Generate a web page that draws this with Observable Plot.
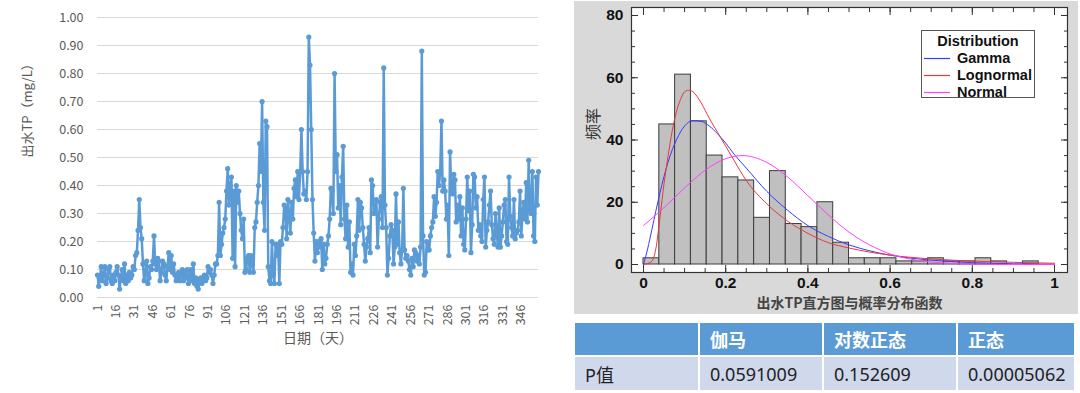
<!DOCTYPE html>
<html><head><meta charset="utf-8">
<script src="https://cdn.jsdelivr.net/npm/d3@7"></script>
<script src="https://cdn.jsdelivr.net/npm/@observablehq/plot@0.6"></script>
<style>
body{margin:0;background:#fff;width:1080px;height:393px;overflow:hidden;position:relative;font-family:"Noto Sans CJK SC","Noto Sans",sans-serif;}
#left{position:absolute;left:0;top:0;}
#panel{position:absolute;left:574px;top:1px;width:504px;height:313px;background:#d9d9d9;}
#right{position:absolute;left:0;top:0;}
#legend{position:absolute;left:347px;top:29px;width:114px;height:68px;background:#fff;border:1px solid #555;box-sizing:border-box;font-family:"Liberation Sans",Arial,sans-serif;font-weight:bold;font-size:14.5px;color:#111;}
#legend .ttl{position:absolute;left:0;width:100%;top:2px;text-align:center;}
#legend .row{position:absolute;left:0;width:100%;height:17px;}
#legend svg{position:absolute;left:2px;top:7px;}
#legend .lb{position:absolute;left:35px;top:0;}
#table{position:absolute;left:575px;top:323px;}
.cell{position:absolute;box-sizing:border-box;padding-left:10px;display:flex;align-items:center;font-size:18px;}
.hd{background:#5b9bd5;color:#fff;font-weight:bold;font-family:"Noto Sans CJK SC",sans-serif;}
.bd{background:#d0d8ec;color:#222;font-family:"Noto Sans","Noto Sans CJK SC",sans-serif;}
</style></head>
<body>
<div id="left"></div>
<div id="panel"><div id="right"></div><div id="legend"></div></div>
<div id="table"></div>
<script>
// ---------- Left chart data: daily effluent TP (mg/L) ----------
const tpValues = [
0.08,0.04,0.07,0.11,0.06,0.08,0.11,0.05,0.07,0.10,0.11,0.06,0.05,0.08,0.06,
0.09,0.11,0.08,0.03,0.07,0.10,0.06,0.12,0.05,0.08,0.06,0.09,0.07,0.08,0.11,
0.10,0.15,0.16,0.24,0.35,0.25,0.21,0.12,0.06,0.09,0.13,0.05,0.07,0.11,0.10,
0.13,0.22,0.12,0.10,0.14,0.13,0.06,0.09,0.13,0.12,0.08,0.06,0.11,0.16,0.10,
0.15,0.09,0.12,0.08,0.06,0.07,0.09,0.06,0.08,0.10,0.06,0.09,0.07,0.10,0.05,
0.08,0.10,0.06,0.12,0.05,0.07,0.04,0.03,0.06,0.07,0.05,0.07,0.08,0.06,0.07,
0.11,0.09,0.10,0.08,0.05,0.08,0.12,0.12,0.15,0.34,0.15,0.19,0.23,0.25,0.28,
0.38,0.46,0.33,0.40,0.43,0.14,0.38,0.11,0.40,0.34,0.38,0.30,0.24,0.21,0.28,
0.09,0.10,0.14,0.15,0.09,0.15,0.12,0.09,0.25,0.27,0.34,0.40,0.55,0.45,0.70,
0.34,0.24,0.63,0.61,0.11,0.06,0.05,0.20,0.08,0.05,0.19,0.15,0.19,0.05,0.20,
0.19,0.25,0.33,0.32,0.21,0.35,0.30,0.23,0.34,0.28,0.39,0.42,0.36,0.45,0.35,
0.45,0.60,0.45,0.37,0.38,0.35,0.45,0.93,0.83,0.60,0.35,0.23,0.13,0.20,0.16,
0.20,0.18,0.21,0.10,0.19,0.12,0.14,0.19,0.22,0.28,0.39,0.38,0.30,0.80,0.45,
0.51,0.32,0.40,0.26,0.43,0.54,0.28,0.21,0.33,0.18,0.27,0.09,0.12,0.08,0.19,
0.15,0.22,0.35,0.24,0.34,0.32,0.25,0.19,0.13,0.18,0.21,0.25,0.16,0.42,0.40,
0.30,0.31,0.35,0.18,0.28,0.34,0.36,0.25,0.82,0.33,0.25,0.08,0.14,0.22,0.26,
0.24,0.12,0.18,0.37,0.19,0.27,0.16,0.12,0.17,0.39,0.17,0.14,0.15,0.13,0.10,
0.08,0.14,0.11,0.17,0.16,0.13,0.15,0.12,0.18,0.88,0.22,0.08,0.09,0.20,0.17,
0.17,0.22,0.25,0.27,0.36,0.29,0.34,0.45,0.40,0.45,0.63,0.38,0.42,0.38,0.28,
0.33,0.15,0.52,0.38,0.37,0.44,0.42,0.27,0.33,0.28,0.36,0.22,0.32,0.19,0.17,
0.28,0.43,0.31,0.38,0.16,0.26,0.44,0.43,0.32,0.36,0.24,0.26,0.22,0.20,0.35,
0.43,0.18,0.24,0.27,0.33,0.38,0.26,0.21,0.19,0.30,0.23,0.18,0.32,0.18,0.22,
0.27,0.33,0.35,0.20,0.19,0.43,0.29,0.25,0.22,0.35,0.21,0.23,0.24,0.27,0.38,
0.22,0.30,0.34,0.28,0.41,0.27,0.49,0.31,0.30,0.45,0.22,0.20,0.43,0.33,0.45
];
const dayTicks = [1,16,31,46,61,76,91,106,121,136,151,166,181,196,211,226,241,256,271,286,301,316,331,346];
const tpTicks = [0,0.1,0.2,0.3,0.4,0.5,0.6,0.7,0.8,0.9,1.0];
const leftYTitle = "出水TP（mg/L）";
const leftXTitle = "日期（天）";

// ---------- Right chart data: histogram + fitted distributions ----------
const binCount = 26;
const binCounts = [2,45,61,46,35,28,27,15,30,13,12,20,7,2,2,2,1,1,2,1,1,2,1,0,1,0];
const gammaX = [0,0.01,0.02,0.04,0.06,0.08,0.10,0.12,0.14,0.16,0.18,0.20,0.22,0.25,0.30,0.35,0.40,0.45,0.50,0.55,0.60,0.70,0.80,0.90,1.00];
const gammaY = [0,5,11,23,33,40,44.5,46.2,46,44.5,42,39,35.5,31,23.5,17.5,12.5,9,6.3,4.4,3,1.4,0.6,0.25,0.1];
const lognormX = [0,0.02,0.03,0.04,0.05,0.06,0.07,0.08,0.09,0.10,0.11,0.12,0.14,0.16,0.18,0.20,0.22,0.25,0.30,0.35,0.40,0.45,0.50,0.55,0.60,0.70,0.80,0.90,1.00];
const lognormY = [0,1,5,15,26,35,43,49,53,55.5,56,55.5,52,47,42.5,38,33.5,27,19.5,14,10,7,5.3,4,3,1.8,1.1,0.7,0.4];
const normalX = [0,0.05,0.10,0.15,0.20,0.24,0.30,0.35,0.40,0.45,0.50,0.55,0.60,0.65,0.70,0.80,0.90,1.00];
const normalY = [12.5,18.3,24.6,30.3,34,35,32.8,28.2,22.1,15.9,10.4,6.3,3.4,1.7,0.8,0.13,0.02,0];
const distNames = ["Gamma","Lognormal","Normal"];
const distColors = ["#3a3aff","#e8383d","#ff40ff"];
const freqTicks = [0,20,40,60,80];
const freqMinor = [0,5,10,15,20,25,30,35,40,45,50,55,60,65,70,75,80];
const valTicks = [0,0.2,0.4,0.6,0.8,1];
const valMinor = [0,0.05,0.1,0.15,0.2,0.25,0.3,0.35,0.4,0.45,0.5,0.55,0.6,0.65,0.7,0.75,0.8,0.85,0.9,0.95,1];
const rightXTitle = "出水TP直方图与概率分布函数";
const rightYTitle = "频率";
const legendTitle = "Distribution";

// ---------- Table data ----------
const tableHeader = ["", "伽马", "对数正态", "正态"];
const tableRow = ["P值", "0.0591009", "0.152609", "0.00005062"];

// ---------- Left chart ----------
const series = tpValues.map((v, i) => ({day: i + 1, tp: v}));
const lineColor = "#5b9bd5";
const leftPlot = Plot.plot({
  width: 560, height: 393,
  marginLeft: 97, marginRight: 22, marginTop: 17, marginBottom: 96,
  x: {domain: [1, tpValues.length]},
  y: {domain: [0, 1]},
  style: {fontFamily: '"Noto Sans CJK SC","Noto Sans",sans-serif', fontSize: "12.5px", color: "#595959", background: "transparent", overflow: "visible"},
  marks: [
    Plot.gridY(tpTicks, {stroke: "#d9d9d9", strokeOpacity: 1, strokeWidth: 1}),
    Plot.axisY(tpTicks, {tickSize: 0, tickPadding: 14, tickFormat: d => d.toFixed(2), label: null, fill: "#595959"}),
    Plot.axisX(dayTicks, {tickSize: 0, tickPadding: 7, tickRotate: -90, label: null, fill: "#595959"}),
    Plot.line(series, {x: "day", y: "tp", stroke: lineColor, strokeWidth: 2.5}),
    Plot.dot(series, {x: "day", y: "tp", r: 2.6, fill: lineColor, stroke: null}),
    Plot.text([leftYTitle], {text: d => d, frameAnchor: "left", dx: -70, rotate: -90, fontSize: 13, fill: "#595959"}),
    Plot.text([leftXTitle], {text: d => d, frameAnchor: "bottom", dy: 45, fontSize: 14, fill: "#595959"})
  ]
});
document.getElementById("left").append(leftPlot);

// ---------- Right chart ----------
const bins = binCounts.map((c, i) => ({x1: i / binCount, x2: (i + 1) / binCount, count: c}));
const curves = [
  ...gammaX.map((x, i) => ({dist: distNames[0], x, y: gammaY[i]})),
  ...lognormX.map((x, i) => ({dist: distNames[1], x, y: lognormY[i]})),
  ...normalX.map((x, i) => ({dist: distNames[2], x, y: normalY[i]}))
];
const boldFont = '"Liberation Sans",Arial,sans-serif';
const rightPlot = Plot.plot({
  width: 504, height: 313,
  marginLeft: 57, marginRight: 11, marginTop: 6, marginBottom: 42,
  x: {domain: [-0.0292, 1.0316]},
  y: {domain: [-2.57, 82.57]},
  color: {domain: distNames, range: distColors},
  style: {fontFamily: boldFont, fontSize: "15.5px", fontWeight: "bold", color: "#111", background: "transparent", overflow: "visible"},
  marks: [
    Plot.frame({fill: "#fff", stroke: null}),
    Plot.rect(bins, {x1: "x1", x2: "x2", y1: 0, y2: "count", fill: "#c0c0c0", stroke: "#3c3c3c", strokeWidth: 1}),
    Plot.line(curves, {x: "x", y: "y", z: "dist", stroke: "dist", strokeWidth: 1, curve: "monotone-x"}),
    Plot.axisY(freqTicks, {anchor: "left", tickSize: 0, tickPadding: 8, label: null, fill: "#111"}),
    Plot.axisX(valTicks, {anchor: "bottom", tickSize: 0, tickPadding: 4, label: null, fill: "#111", tickFormat: d => String(+d.toFixed(1))}),
    Plot.axisY(freqTicks, {anchor: "left", tickSize: 7, dx: 7, fill: "none", label: null, stroke: "#333"}),
    Plot.axisY(freqTicks, {anchor: "right", tickSize: 7, dx: -7, fill: "none", label: null, stroke: "#333"}),
    Plot.axisX(valTicks, {anchor: "bottom", tickSize: 7, dy: -7, fill: "none", label: null, stroke: "#333"}),
    Plot.axisX(valTicks, {anchor: "top", tickSize: 7, dy: 7, fill: "none", label: null, stroke: "#333"}),
    Plot.axisY(freqMinor, {anchor: "left", tickSize: 4, dx: 4, fill: "none", label: null, stroke: "#333"}),
    Plot.axisY(freqMinor, {anchor: "right", tickSize: 4, dx: -4, fill: "none", label: null, stroke: "#333"}),
    Plot.axisX(valMinor, {anchor: "bottom", tickSize: 4, dy: -4, fill: "none", label: null, stroke: "#333"}),
    Plot.axisX(valMinor, {anchor: "top", tickSize: 4, dy: 4, fill: "none", label: null, stroke: "#333"}),
    Plot.frame({stroke: "#333", strokeWidth: 1.2}),
    Plot.text([rightYTitle], {text: d => d, frameAnchor: "left", dx: -38, rotate: -90, fontSize: 16, fontWeight: "normal", fill: "#333", fontFamily: '"Noto Sans CJK SC",sans-serif'}),
    Plot.text([rightXTitle], {text: d => d, frameAnchor: "bottom", dy: 35, fontSize: 14, fontWeight: 600, fill: "#444", fontFamily: '"Noto Sans CJK SC",sans-serif'})
  ]
});
document.getElementById("right").append(rightPlot);

// legend
const legend = document.getElementById("legend");
const ttl = document.createElement("div");
ttl.className = "ttl"; ttl.textContent = legendTitle; legend.append(ttl);
distNames.forEach((n, i) => {
  const row = document.createElement("div");
  row.className = "row"; row.style.top = (19 + i * 17) + "px";
  row.innerHTML = `<svg width="26" height="3"><line x1="0" x2="26" y1="1.5" y2="1.5" stroke="${distColors[i]}" stroke-width="1.2"/></svg>`;
  const lb = document.createElement("div"); lb.className = "lb"; lb.textContent = n;
  row.append(lb); legend.append(row);
});

// table
const colX = [0, 125, 249, 383];
const colW = [123, 122, 132, 116];
const table = document.getElementById("table");
[tableHeader, tableRow].forEach((row, r) => {
  row.forEach((txt, c) => {
    const d = document.createElement("div");
    d.className = "cell " + (r === 0 ? "hd" : "bd");
    d.style.left = colX[c] + "px"; d.style.width = colW[c] + "px";
    d.style.top = (r === 0 ? 0 : 34) + "px"; d.style.height = (r === 0 ? 32 : 33) + "px";
    d.textContent = txt;
    table.append(d);
  });
});
</script>
</body></html>
